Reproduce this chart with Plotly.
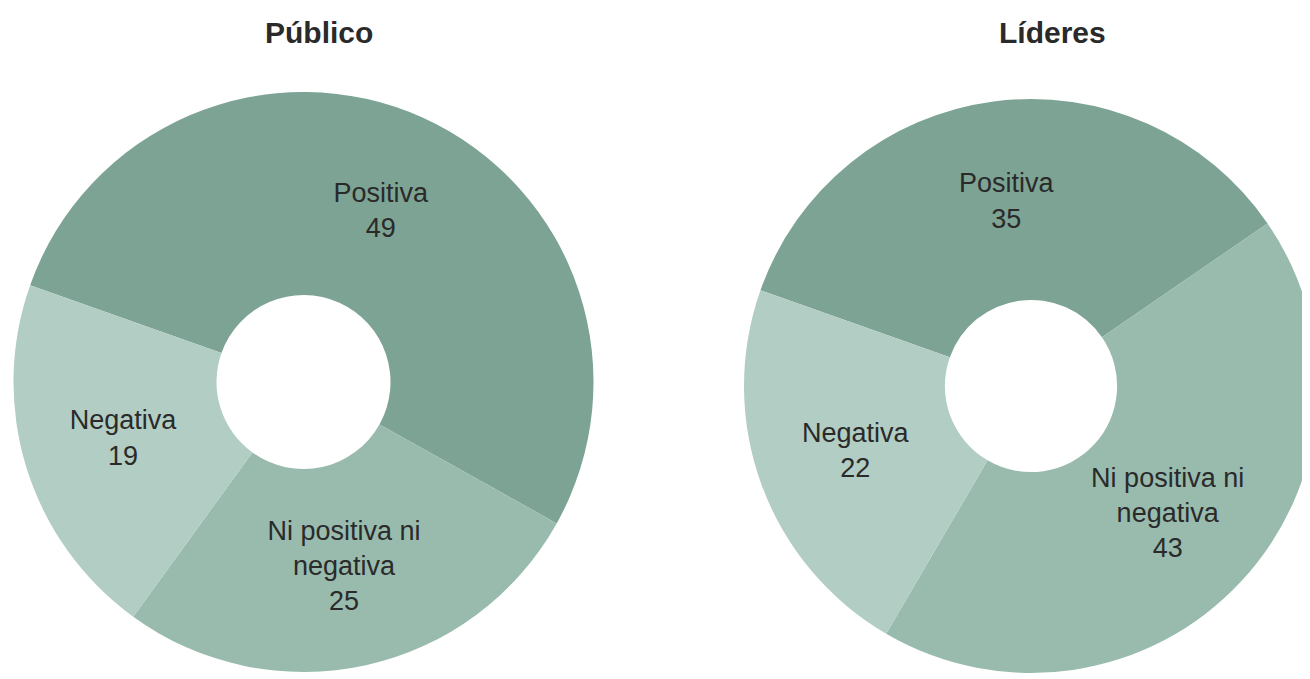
import plotly.graph_objects as go

labels = ["Positiva", "Ni positiva ni<br>negativa", "Negativa"]
publico_values = [49, 25, 19]
lideres_values = [35, 43, 22]
titles = ["Público", "Líderes"]
colors = ["#7da394", "#98bbae", "#b2cdc3"]

W, H = 1310, 679

def dom(cx, cy, r):
    return dict(x=[max(0, (cx - r) / W), min(1, (cx + r) / W)],
                y=[max(0, (H - cy - r) / H), min(1, (H - cy + r) / H)])

fig = go.Figure()
for vals, d in [(publico_values, dom(295.5, 374, 290)),
                (lideres_values, dom(1023, 378, 287))]:
    fig.add_trace(go.Pie(
        labels=labels, values=vals, hole=0.30, sort=False,
        direction="clockwise", rotation=-70.5, domain=d,
        marker=dict(colors=colors, line=dict(width=0)),
        texttemplate="%{label}<br>%{value}", textposition="inside",
        insidetextorientation="horizontal",
        textfont=dict(family="Liberation Sans, Arial, sans-serif", size=27, color="#2a2a2a"),
        hoverinfo="label+value", showlegend=False,
    ))

for t, x in zip(titles, [311, 1044]):
    fig.add_annotation(text="<b>%s</b>" % t, x=x / W, y=1 - 25 / H,
                       xref="paper", yref="paper", showarrow=False,
                       xanchor="center", yanchor="middle",
                       font=dict(family="Liberation Sans, Arial, sans-serif", size=30, color="#2a2a2a"))

fig.update_layout(width=W, height=H, margin=dict(l=0, r=0, t=0, b=0),
                  paper_bgcolor="white", plot_bgcolor="white",
                  uniformtext=dict(minsize=27, mode="show"))
fig.write_html("out.html")
